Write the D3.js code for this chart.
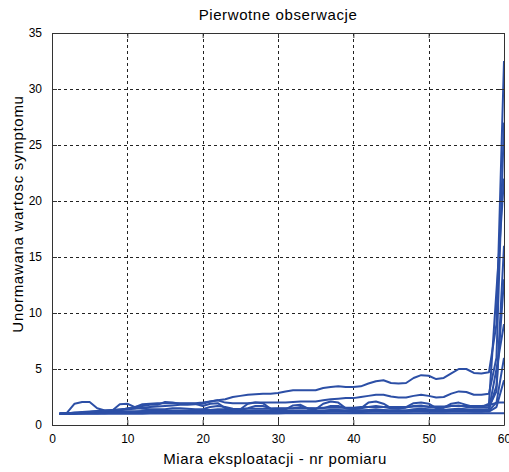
<!DOCTYPE html>
<html>
<head>
<meta charset="utf-8">
<script src="https://cdn.jsdelivr.net/npm/d3@7"></script>
<style>
  html, body { margin: 0; padding: 0; background: #fff; }
  svg { display: block; }
  text { font-family: "Liberation Sans", Arial, sans-serif; fill: #000; }
</style>
</head>
<body>
<div id="chart"></div>
<script>
// ---- data ----
const measurementNo = [1,2,3,4,5,6,7,8,9,10,11,12,13,14,15,16,17,18,19,20,21,22,23,24,25,26,27,28,29,30,31,32,33,34,35,36,37,38,39,40,41,42,43,44,45,46,47,48,49,50,51,52,53,54,55,56,57,58,59,60];

const series1 = [1,1.05,1.1,1.15,1.2,1.25,1.3,1.35,1.4,1.45,1.6,1.85,1.9,1.95,1.95,1.95,1.95,1.95,1.95,2.0,2.1,2.2,2.3,2.5,2.6,2.7,2.75,2.8,2.8,2.85,3.0,3.1,3.1,3.1,3.1,3.3,3.4,3.45,3.4,3.4,3.45,3.7,3.9,4.0,3.75,3.7,3.75,4.2,4.45,4.4,4.1,4.2,4.6,5.0,5.0,4.65,4.6,4.7,9,32.5];
const series2 = [1,1,1.05,1.1,1.15,1.2,1.25,1.3,1.35,1.4,1.45,1.55,1.6,1.65,1.7,1.75,1.8,1.8,1.85,1.9,2.1,2.2,2.0,1.95,1.95,1.95,2.0,2.0,2.0,2.0,2.0,2.05,2.1,2.1,2.1,2.2,2.3,2.35,2.4,2.4,2.5,2.6,2.7,2.7,2.55,2.45,2.45,2.6,2.7,2.6,2.45,2.5,2.8,3.0,2.95,2.7,2.7,2.8,6,27];
const series3 = [1,1.1,1.9,2.05,2.05,1.5,1.3,1.3,1.85,1.9,1.6,1.7,1.8,1.8,2.05,2.0,1.9,1.9,1.9,1.7,1.9,1.95,1.5,1.4,1.4,1.9,2.0,1.95,1.45,1.4,1.4,1.75,1.8,1.45,1.4,1.9,2.1,2.0,1.5,1.4,1.5,2.0,2.1,1.9,1.5,1.45,1.6,1.95,2.0,1.9,1.5,1.55,1.9,2.0,1.8,1.6,1.6,1.9,12,22];
const series4 = [1,1.05,1.1,1.1,1.15,1.2,1.2,1.25,1.3,1.5,1.55,1.45,1.4,1.4,1.4,1.5,1.5,1.45,1.4,1.4,1.6,1.7,1.6,1.45,1.4,1.5,1.7,1.7,1.5,1.45,1.45,1.5,1.6,1.5,1.45,1.5,1.7,1.7,1.5,1.45,1.5,1.6,1.7,1.6,1.5,1.5,1.55,1.7,1.75,1.6,1.55,1.55,1.7,1.75,1.6,1.55,1.55,1.6,3,16];
const series5 = [1,1.05,1.1,1.1,1.1,1.15,1.15,1.15,1.2,1.2,1.2,1.25,1.25,1.2,1.2,1.25,1.25,1.25,1.2,1.2,1.25,1.3,1.3,1.25,1.25,1.25,1.3,1.3,1.3,1.25,1.25,1.3,1.3,1.3,1.25,1.3,1.35,1.35,1.3,1.3,1.3,1.35,1.4,1.35,1.3,1.3,1.3,1.4,1.45,1.4,1.35,1.35,1.4,1.45,1.4,1.35,1.35,1.4,5,9];
const series6 = [1,1,1.05,1.05,1.05,1.05,1.1,1.1,1.1,1.1,1.1,1.1,1.15,1.1,1.1,1.1,1.15,1.15,1.1,1.1,1.15,1.15,1.15,1.1,1.1,1.15,1.2,1.2,1.15,1.15,1.15,1.15,1.2,1.15,1.15,1.15,1.2,1.2,1.2,1.15,1.15,1.2,1.25,1.2,1.2,1.2,1.2,1.25,1.25,1.2,1.2,1.2,1.25,1.3,1.25,1.2,1.2,1.3,2,6];
const series7 = [1,1,1,1,1,1,1,1,1,1,1,1,1.02,1.02,1.02,1.02,1.02,1.02,1.02,1.02,1.03,1.03,1.03,1.03,1.03,1.03,1.03,1.03,1.03,1.03,1.04,1.04,1.04,1.04,1.04,1.04,1.04,1.04,1.04,1.04,1.05,1.05,1.05,1.05,1.05,1.05,1.05,1.05,1.05,1.05,1.05,1.05,1.05,1.05,1.05,1.05,1.05,1.05,1.05,1.05];
const series8 = [1,1,1.05,1.1,1.1,1.1,1.15,1.15,1.2,1.2,1.2,1.2,1.25,1.25,1.3,1.3,1.3,1.3,1.35,1.35,1.35,1.4,1.4,1.4,1.4,1.45,1.45,1.45,1.45,1.5,1.5,1.5,1.5,1.5,1.5,1.55,1.55,1.55,1.55,1.55,1.6,1.6,1.6,1.6,1.6,1.6,1.6,1.65,1.65,1.65,1.65,1.65,1.7,1.7,1.7,1.7,1.7,1.75,2.0,2.0];
const series9 = [1,1,1.05,1.05,1.1,1.1,1.1,1.1,1.15,1.15,1.15,1.15,1.15,1.15,1.15,1.2,1.2,1.2,1.2,1.2,1.2,1.2,1.2,1.2,1.2,1.2,1.25,1.25,1.25,1.25,1.25,1.25,1.25,1.25,1.25,1.25,1.3,1.3,1.3,1.3,1.3,1.3,1.3,1.3,1.3,1.3,1.3,1.3,1.35,1.35,1.35,1.35,1.35,1.35,1.35,1.35,1.35,1.4,3.5,13];
const series10 = [1,1,1,1.05,1.05,1.05,1.05,1.1,1.1,1.1,1.1,1.1,1.1,1.1,1.1,1.1,1.1,1.15,1.15,1.15,1.15,1.15,1.15,1.15,1.15,1.15,1.15,1.15,1.15,1.15,1.15,1.15,1.15,1.15,1.15,1.2,1.2,1.2,1.2,1.2,1.2,1.2,1.2,1.2,1.2,1.2,1.2,1.2,1.2,1.2,1.2,1.2,1.2,1.2,1.2,1.2,1.2,1.2,1.6,4];

const allSeries = [series10, series9, series8, series7, series6, series5, series4, series3, series2, series1];

const xTicks = [0,10,20,30,40,50,60];
const yTicks = [0,5,10,15,20,25,30,35];

const titleText = "Pierwotne obserwacje";
const xLabelText = "Miara eksploatacji - nr pomiaru";
const yLabelText = "Unormawana wartosc symptomu";

// ---- layout ----
const W = 509, H = 472;
const margin = {left: 52, right: 5, top: 33, bottom: 47};
const pw = W - margin.left - margin.right;
const ph = H - margin.top - margin.bottom;

const svg = d3.select("#chart").append("svg").attr("width", W).attr("height", H);
const g = svg.append("g").attr("transform", `translate(${margin.left},${margin.top})`);

const x = d3.scaleLinear().domain([0, 60]).range([0, pw]);
const y = d3.scaleLinear().domain([0, 35]).range([ph, 0]);

// grid
const gridColor = "#222";
g.append("g").selectAll("line").data(xTicks.filter(t => t > 0 && t < 60)).join("line")
  .attr("x1", d => Math.round(x(d)) + 0.5).attr("x2", d => Math.round(x(d)) + 0.5)
  .attr("y1", 0).attr("y2", ph)
  .attr("stroke", gridColor).attr("stroke-width", 1).attr("stroke-dasharray", "3,3");
g.append("g").selectAll("line").data(yTicks.filter(t => t > 0 && t < 35)).join("line")
  .attr("y1", d => Math.round(y(d)) + 0.5).attr("y2", d => Math.round(y(d)) + 0.5)
  .attr("x1", 0).attr("x2", pw)
  .attr("stroke", gridColor).attr("stroke-width", 1).attr("stroke-dasharray", "3,3");

// lines
const line = d3.line().x((d, i) => x(measurementNo[i])).y(d => y(d));
g.append("g").selectAll("path").data(allSeries).join("path")
  .attr("d", line)
  .attr("fill", "none")
  .attr("stroke", "#2c4fa6")
  .attr("stroke-width", 2)
  .attr("stroke-linejoin", "round");

// axes (MATLAB-style box with inward ticks)
const axColor = "#333";
const xAxisB = d3.axisBottom(x).tickValues(xTicks).tickSizeInner(-5).tickSizeOuter(0).tickPadding(9);
const xAxisT = d3.axisTop(x).tickValues(xTicks).tickSizeInner(-5).tickSizeOuter(0).tickFormat("");
const yAxisL = d3.axisLeft(y).tickValues(yTicks).tickSizeInner(-5).tickSizeOuter(0).tickPadding(10);
const yAxisR = d3.axisRight(y).tickValues(yTicks).tickSizeInner(-5).tickSizeOuter(0).tickFormat("");

function style(sel) {
  sel.selectAll("path").attr("stroke", axColor);
  sel.selectAll("line").attr("stroke", axColor);
  sel.selectAll("text").attr("font-size", 12).attr("fill", "#000")
     .attr("font-family", "'Liberation Sans', Arial, sans-serif");
}
g.append("g").attr("transform", `translate(0,${ph})`).call(xAxisB).call(style);
g.append("g").call(xAxisT).call(style);
g.append("g").call(yAxisL).call(style);
g.append("g").attr("transform", `translate(${pw},0)`).call(yAxisR).call(style);

// titles
svg.append("text").attr("x", 278).attr("y", 20).attr("text-anchor", "middle")
  .attr("font-size", 15).attr("letter-spacing", 0.6).text(titleText);
svg.append("text").attr("x", 275).attr("y", 464).attr("text-anchor", "middle")
  .attr("font-size", 15).attr("letter-spacing", 0.6).text(xLabelText);
svg.append("text").attr("transform", "translate(23,214) rotate(-90)").attr("text-anchor", "middle")
  .attr("font-size", 15).attr("letter-spacing", 0.7).text(yLabelText);
</script>
</body>
</html>
